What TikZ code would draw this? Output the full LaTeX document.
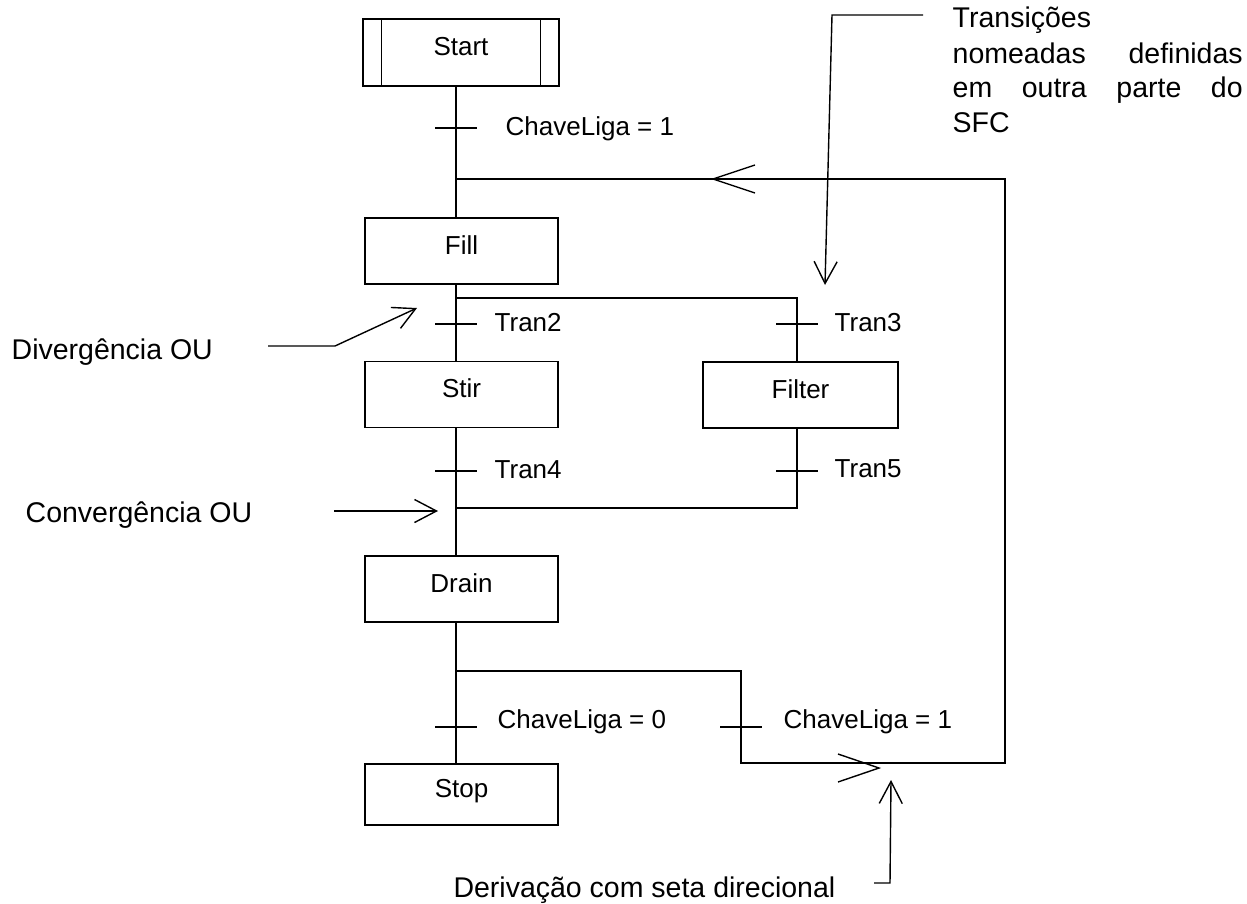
\documentclass[tikz,border=0pt]{standalone}
\usepackage{fontspec}
\setmainfont{Liberation Sans}
\usetikzlibrary{arrows.meta,calc}
\begin{document}
\begin{tikzpicture}[x=1pt,y=-1pt,
  line width=1.4pt,
  stepbox/.style={draw, rectangle, inner sep=0pt, minimum height=66pt,
    minimum width=193pt, text height=20pt, text depth=14pt,
    font=\fontsize{26}{30}\selectfont},
  lbl/.style={inner sep=0pt, anchor=base west, font=\fontsize{26}{30}\selectfont},
  note/.style={inner sep=0pt, anchor=base west, font=\fontsize{28.5}{34}\selectfont},
  callout/.style={-{Straight Barb[length=22pt,width=23pt,line width=1.4pt]}},
]
\useasboundingbox (0,0) rectangle (1247,903);

% guide x positions of the two vertical flows
\coordinate (xm) at (456,0);
\coordinate (xf) at (797,0);

% steps
\node[stepbox, minimum width=196pt, minimum height=67pt] (start) at (461,52.5) {Start};
\draw ($(start.north west)+(19,0)$) -- ($(start.south west)+(19,0)$);
\draw ($(start.north east)+(-19,0)$) -- ($(start.south east)+(-19,0)$);
\node[stepbox] (fill) at (461.5,251) {Fill};
\node[stepbox] (stir) at (461.5,394.5) {Stir};
\node[stepbox, minimum width=195pt] (filter) at (800.5,395) {Filter};
\node[stepbox] (drain) at (461.5,589) {Drain};
\node[stepbox, minimum height=61pt] (stop) at (461.5,794.5) {Stop};

% main flow
\draw (start.south -| xm) -- (fill.north -| xm);
\draw (fill.south -| xm) -- (stir.north -| xm);
\draw (stir.south -| xm) -- (drain.north -| xm);
\draw (drain.south -| xm) -- (stop.north -| xm);

% OR divergence / convergence
\coordinate (div) at (456,298);
\coordinate (conv) at (456,508);
\draw (div) -| (filter.north -| xf);
\draw (filter.south -| xf) |- (conv);

% loop back to Fill
\coordinate (sel) at (456,671);
\coordinate (br) at (741,763);
\coordinate (lr) at (1005,763);
\coordinate (ur) at (1005,179);
\coordinate (join) at (456,179);
\draw (sel) -| (br) -- (lr) -- (ur) -- (join);

% direction marks on the loop
\coordinate (lt) at (713,179);
\draw ($(lt)+(42,-14)$) -- (lt) -- ($(lt)+(42,14)$);
\coordinate (rt) at (879,768);
\draw ($(rt)+(-41,-14)$) -- (rt) -- ($(rt)+(-41,14)$);

% transitions
\foreach \n/\x/\y in {t1/456/128, t2/456/324, t3/797/324, t4/456/471,
                      t5/797/471, t6/456/727, t7/741/727} {
  \coordinate (\n) at (\x,\y);
  \draw ([xshift=-21pt]\n) -- ([xshift=21pt]\n);
}
\node[lbl] (l1) at (505,135) {ChaveLiga = 1};
\node[lbl] (l2) at (494,331) {Tran2};
\node[lbl] (l3) at (834,331) {Tran3};
\node[lbl] (l4) at (494,478) {Tran4};
\node[lbl] (l5) at (834,477) {Tran5};
\node[lbl] (l6) at (497,728) {ChaveLiga = 0};
\node[lbl] (l7) at (783,728) {ChaveLiga = 1};

% annotations
\node[note] (tr1) at (952,27) {Transições};
\node[note] (tr2) at (952,63) {\makebox[290pt][s]{nomeadas definidas}};
\node[note] (tr3) at (952,97.5) {\makebox[290pt][s]{em outra parte do}};
\node[note] (tr4) at (952,132) {SFC};
\node[note] (dv) at (11,359) {Divergência OU};
\node[note] (cv) at (25,522) {Convergência OU};
\node[note, anchor=base east] (dc) at (836,897) {Derivação com seta direcional};

\coordinate (tcA) at (923,15);
\coordinate (tcB) at (832,15);
\coordinate (tcT) at (825,285);
\draw[callout] (tcA) -- (tcB) -- (tcT);

\coordinate (dvA) at (268,346);
\coordinate (dvB) at (335,346);
\coordinate (dvT) at (417,308);
\draw[callout] (dvA) -- (dvB) -- (dvT);

\coordinate (cvA) at (334,511);
\coordinate (cvT) at (438,511);
\draw[callout, line width=2.6pt] (cvA) -- (cvT);

\coordinate (dcA) at (874,883);
\coordinate (dcB) at (890,883);
\coordinate (dcT) at (891,780);
\draw[callout] (dcA) -- (dcB) -- (dcT);
\end{tikzpicture}
\end{document}
